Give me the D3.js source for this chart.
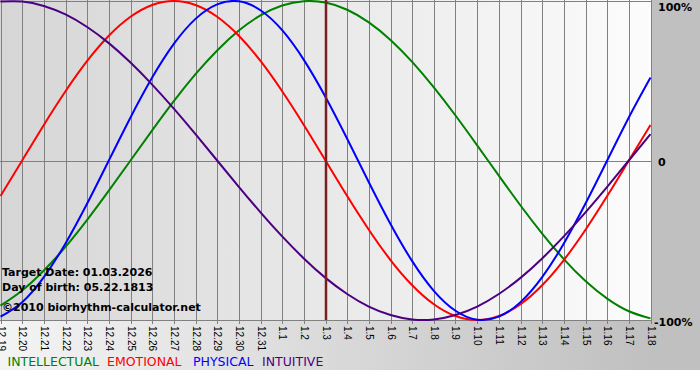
<!DOCTYPE html>
<html>
<head>
<meta charset="utf-8">
<script src="https://cdn.jsdelivr.net/npm/d3@7"></script>
<style>
  html, body { margin: 0; padding: 0; background: #ffffff; }
  svg { display: block; }
</style>
</head>
<body>
<svg id="chart" width="700" height="380"></svg>
<script>
// ---- data ----
const dayLabels = ["12.19","12.20","12.21","12.22","12.23","12.24","12.25","12.26","12.27","12.28","12.29","12.30","12.31",
  "1.1","1.2","1.3","1.4","1.5","1.6","1.7","1.8","1.9","1.10","1.11","1.12","1.13","1.14","1.15","1.16","1.17","1.18"];
const physical = [-0.979,-0.888,-0.731,-0.520,-0.270,0,0.270,0.520,0.731,0.888,0.979,0.998,0.942,0.817,0.631,0.398,0.136,
  -0.136,-0.398,-0.631,-0.817,-0.942,-0.998,-0.979,-0.888,-0.731,-0.520,-0.270,0,0.270,0.520];
const emotional = [-0.223,0,0.223,0.434,0.624,0.782,0.901,0.975,1.0,0.975,0.901,0.782,0.624,0.434,0.223,0,-0.223,
  -0.434,-0.624,-0.782,-0.901,-0.975,-1.0,-0.975,-0.901,-0.782,-0.624,-0.434,-0.223,0,0.223];
const intellectual = [-0.910,-0.815,-0.690,-0.541,-0.372,-0.189,0,0.189,0.372,0.541,0.690,0.815,0.910,0.972,0.999,0.990,
  0.945,0.866,0.756,0.618,0.458,0.282,0.095,-0.095,-0.282,-0.458,-0.618,-0.756,-0.866,-0.945,-0.990];
const intuitive = [0.997,0.997,0.969,0.916,0.837,0.736,0.614,0.476,0.325,0.165,0,-0.165,-0.325,-0.476,-0.614,-0.736,
  -0.837,-0.916,-0.969,-0.997,-0.997,-0.969,-0.916,-0.837,-0.736,-0.614,-0.476,-0.325,-0.165,0,0.165];
const targetIndex = 15;
const yTicks = [1, 0, -1];
const yTickLabels = ["100%", "0", "-100%"];
const infoLines = ["Target Date: 01.03.2026", "Day of birth: 05.22.1813", "\u00A92010 biorhythm-calculator.net"];
const legendNames = ["INTELLECTUAL", "EMOTIONAL", "PHYSICAL", "INTUITIVE"];

// ---- layout ----
const svg = d3.select("#chart");
const plotL = 0, plotR = 651, plotT = 0, plotB = 320;
const x = d3.scaleLinear().domain([0, dayLabels.length - 1]).range([0.5, 650.5]);
const y = d3.scaleLinear().domain([-1, 1]).range([320, 1]);

const defs = svg.append("defs");
const bgGrad = defs.append("linearGradient").attr("id", "bgGrad").attr("x1", "0").attr("x2", "1").attr("y1", "0").attr("y2", "0");
bgGrad.append("stop").attr("offset", "0").attr("stop-color", "#f4f4f4");
bgGrad.append("stop").attr("offset", "1").attr("stop-color", "#bcbcbc");
const plotGrad = defs.append("linearGradient").attr("id", "plotGrad").attr("x1", "0").attr("x2", "1").attr("y1", "0").attr("y2", "0");
plotGrad.append("stop").attr("offset", "0").attr("stop-color", "#d6d6d6");
plotGrad.append("stop").attr("offset", "1").attr("stop-color", "#fcfcfc");

// page background
svg.append("rect").attr("x", 0).attr("y", 0).attr("width", 700).attr("height", 370).attr("fill", "url(#bgGrad)");
svg.append("rect").attr("x", 652).attr("y", 0).attr("width", 48).attr("height", 370).attr("fill", "#c0c0c0");

// plot background
svg.append("rect").attr("x", plotL).attr("y", plotT).attr("width", plotR - plotL).attr("height", plotB - plotT)
  .attr("fill", "url(#plotGrad)");

// vertical grid + ticks
svg.append("g").selectAll("line").data(dayLabels).join("line")
  .attr("x1", (d, i) => Math.round(x(i)) + 0.5).attr("x2", (d, i) => Math.round(x(i)) + 0.5)
  .attr("y1", plotT).attr("y2", plotB + 4)
  .attr("stroke", "#808080").attr("stroke-width", 1);

// horizontal lines
svg.append("g").selectAll("line").data(yTicks).join("line")
  .attr("x1", plotL).attr("x2", plotR)
  .attr("y1", d => Math.round(y(d)) + 0.5).attr("y2", d => Math.round(y(d)) + 0.5)
  .attr("stroke", "#808080").attr("stroke-width", 1);

// tick labels (rotated)
svg.append("g").selectAll("text").data(dayLabels).join("text")
  .attr("transform", (d, i) => `translate(${Math.round(x(i)) + 0.5},326) rotate(90)`)
  .attr("dy", "0.35em")
  .attr("font-family", "'Liberation Sans', Arial, sans-serif")
  .attr("font-size", "10px")
  .attr("fill", "#000")
  .text(d => d);

// curves
const line = d3.line().x((d, i) => x(i)).y(d => y(d)).curve(d3.curveNatural);
const series = [
  { values: intellectual, color: "#008000" },
  { values: emotional, color: "#ff0000" },
  { values: physical, color: "#0000ff" },
  { values: intuitive, color: "#4b0082" }
];
svg.append("g").selectAll("path").data(series).join("path")
  .attr("d", d => line(d.values))
  .attr("fill", "none")
  .attr("stroke", d => d.color)
  .attr("stroke-width", 2);

// target date line
svg.append("line")
  .attr("x1", x(targetIndex) + 0.5).attr("x2", x(targetIndex) + 0.5)
  .attr("y1", plotT).attr("y2", plotB)
  .attr("stroke", "#7a1f1f").attr("stroke-width", 2.5);

// right-side percent labels
svg.append("g").selectAll("text").data(yTicks).join("text")
  .attr("x", (d, i) => i === 2 ? 654 : 658)
  .attr("y", (d, i) => [11, 166, 326][i])
  .attr("font-family", "'DejaVu Sans', Verdana, sans-serif")
  .attr("font-weight", "bold")
  .attr("font-size", "11px")
  .attr("fill", "#000")
  .text((d, i) => yTickLabels[i]);

// info text
svg.append("g").selectAll("text").data(infoLines).join("text")
  .attr("x", 2)
  .attr("y", (d, i) => [275.5, 290.5, 310.5][i])
  .attr("font-family", "'DejaVu Sans', Verdana, sans-serif")
  .attr("font-weight", "bold")
  .attr("font-size", "11px")
  .attr("fill", "#000")
  .text(d => d);

// legend
const legendX = [7.5, 107, 193, 262];
svg.append("g").selectAll("text").data(legendNames).join("text")
  .attr("x", (d, i) => legendX[i])
  .attr("y", 366)
  .attr("font-family", "'DejaVu Sans', Verdana, sans-serif")
  .attr("font-size", "12.5px")
  .attr("fill", (d, i) => series[i].color)
  .text(d => d);
</script>
</body>
</html>
